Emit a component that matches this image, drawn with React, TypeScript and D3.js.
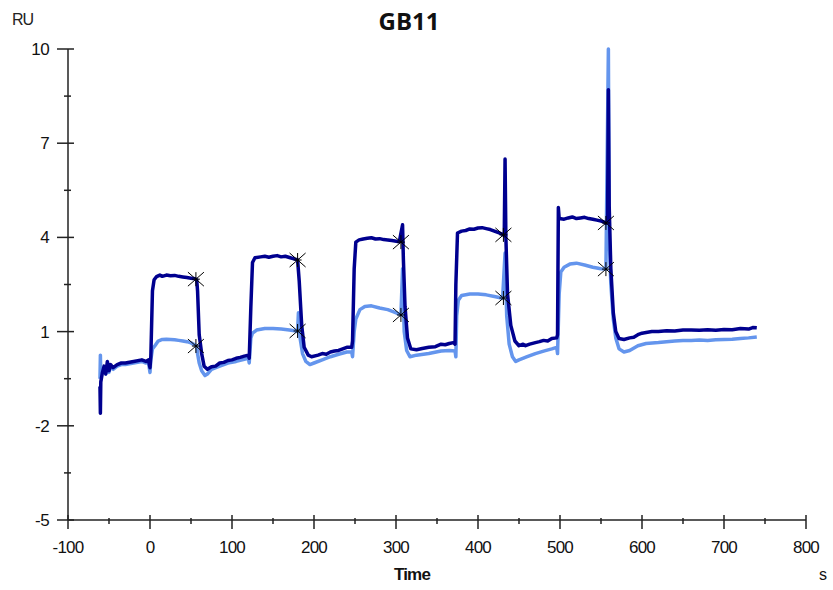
import React from "react";
import * as d3 from "d3";

const title = "GB11";
const xTicks = [-100, 0, 100, 200, 300, 400, 500, 600, 700, 800];
const xMinor = [-50, 50, 150, 250, 350, 450, 550, 650, 750];
const yTicks = [-5, -2, 1, 4, 7, 10];
const yMinor = [-3.5, -0.5, 2.5, 5.5, 8.5];

const darkT = [-61, -60.5, -60, -58, -56, -54, -52, -50, -48, -45, -40, -35, -30, -20, -10, -5, -2, 0, 1, 3, 5, 8, 12, 15, 20, 25, 30, 35, 40, 45, 50, 55, 57, 58, 60, 63, 66, 70, 75, 80, 85, 90, 95, 100, 105, 110, 115, 120, 121, 123, 125, 128, 135, 140, 145, 150, 155, 160, 165, 170, 178, 180, 182, 185, 188, 193, 197, 205, 210, 215, 220, 225, 230, 235, 240, 246, 247, 249, 251, 255, 260, 265, 270, 275, 280, 285, 290, 295, 304, 308, 309, 311, 314, 318, 325, 332, 340, 348, 355, 360, 365, 370, 372, 373, 375, 380, 385, 390, 395, 400, 405, 410, 415, 420, 425, 430, 432, 433, 434, 436, 440, 445, 450, 455, 458, 463, 470, 475, 480, 485, 490, 496, 497, 498, 499, 505, 510, 515, 520, 525, 530, 535, 540, 545, 550, 553, 556, 558, 559, 560, 562, 565, 568, 572, 578, 585, 590, 595, 600, 605, 612, 620, 630, 640, 650, 660, 670, 680, 690, 700, 710, 720, 730, 735, 740];
const darkV = [-0.75, -1.6, -0.6, -0.3, -0.1, -0.35, 0.05, -0.25, -0.05, -0.15, -0.05, 0.0, 0.0, 0.05, 0.1, 0.05, 0.1, -0.15, 0.2, 2.3, 2.65, 2.75, 2.8, 2.76, 2.8, 2.78, 2.79, 2.76, 2.74, 2.72, 2.7, 2.68, 2.65, 2.3, 0.9, 0.3, -0.1, -0.2, -0.12, -0.1, 0.0, 0.02, 0.08, 0.1, 0.15, 0.18, 0.22, 0.25, 0.15, 1.8, 3.2, 3.35, 3.38, 3.4, 3.37, 3.4, 3.42, 3.38, 3.4, 3.36, 3.3, 3.28, 2.6, 1.2, 0.5, 0.25, 0.2, 0.25, 0.3, 0.28, 0.35, 0.38, 0.4, 0.45, 0.5, 0.5, 0.7, 3.0, 3.85, 3.92, 3.95, 3.97, 3.99, 3.95, 3.96, 3.93, 3.92, 3.9, 3.86, 4.4, 3.3, 1.8, 0.8, 0.45, 0.42, 0.46, 0.5, 0.52, 0.6, 0.58, 0.62, 0.65, 0.6, 2.5, 4.14, 4.2, 4.22, 4.27, 4.26, 4.3, 4.31, 4.28, 4.25, 4.2, 4.15, 4.1, 4.05, 6.5, 4.0, 2.2, 1.2, 0.7, 0.55, 0.6, 0.55, 0.6, 0.65, 0.68, 0.72, 0.7, 0.78, 0.8, 0.9, 4.95, 4.6, 4.58, 4.62, 4.65, 4.6, 4.62, 4.64, 4.6, 4.58, 4.55, 4.52, 4.5, 4.45, 4.5, 8.7, 5.0, 3.0, 1.6, 1.0, 0.78, 0.75, 0.8, 0.82, 0.9, 0.95, 0.97, 1.0, 1.0, 1.03, 1.02, 1.05, 1.05, 1.04, 1.06, 1.04, 1.07, 1.06, 1.1, 1.08, 1.13, 1.12, 1.2];

const lightT = [-61, -60.5, -60, -58, -56, -54, -52, -50, -48, -45, -40, -35, -30, -20, -10, -5, -2, 0, 1, 3, 6, 10, 15, 20, 25, 30, 35, 40, 45, 50, 55, 57, 58, 60, 63, 67, 70, 75, 85, 95, 105, 115, 120, 121, 123, 125, 130, 140, 150, 160, 170, 178, 180, 181, 183, 186, 190, 195, 200, 210, 220, 230, 240, 246, 247, 249, 251, 256, 262, 270, 280, 290, 298, 306, 308, 310, 313, 317, 325, 340, 355, 365, 372, 373, 374, 376, 380, 390, 400, 410, 420, 430, 433, 435, 438, 442, 446, 450, 460, 470, 480, 490, 496, 497, 499, 501, 505, 512, 520, 530, 540, 550, 556, 559, 560, 562, 565, 568, 572, 578, 585, 595, 605, 620, 630, 640, 650, 660, 670, 680, 690, 700, 710, 720, 730, 740];
const lightV = [-0.5, 0.25, -0.4, -0.2, -0.15, -0.35, -0.1, -0.3, -0.1, -0.2, -0.1, -0.05, -0.05, 0.0, 0.05, 0.0, 0.05, -0.3, 0.1, 0.45, 0.55, 0.7, 0.75, 0.76, 0.75, 0.74, 0.72, 0.7, 0.68, 0.64, 0.57, 0.55, 0.3, 0.0, -0.25, -0.4, -0.35, -0.2, -0.1, 0.0, 0.05, 0.12, 0.15, 0.0, 0.8, 0.95, 1.05, 1.1, 1.1, 1.08, 1.05, 1.02, 1.0, 1.6, 0.8, 0.3, 0.05, -0.05, 0.0, 0.1, 0.2, 0.28, 0.35, 0.35, 0.2, 1.0, 1.4, 1.7, 1.8, 1.82, 1.75, 1.7, 1.62, 1.53, 3.0, 1.0, 0.4, 0.2, 0.25, 0.3, 0.38, 0.4, 0.38, 0.2, 1.5, 2.0, 2.15, 2.2, 2.2, 2.17, 2.12, 2.06, 3.5, 1.5, 0.6, 0.2, 0.05, 0.1, 0.2, 0.3, 0.38, 0.45, 0.5, 0.3, 2.2, 2.9, 3.05, 3.15, 3.18, 3.12, 3.05, 3.0, 2.99, 10.0, 4.0, 2.5, 1.4, 0.8, 0.45, 0.35, 0.4, 0.55, 0.62, 0.65, 0.68, 0.7, 0.72, 0.72, 0.73, 0.72, 0.74, 0.75, 0.76, 0.78, 0.8, 0.83];

const starT = [56, 180, 306, 431, 556];
const darkStarV = [2.67, 3.28, 3.85, 4.08, 4.46];
const lightStarV = [0.54, 1.02, 1.53, 2.07, 2.99];

const DARK = "#00008f";
const LIGHT = "#6495ed";

export default function App() {
  const x = d3.scaleLinear().domain([-100, 800]).range([68, 806]);
  const y = d3.scaleLinear().domain([-5, 10]).range([520, 49]);
  const line = d3
    .line<[number, number]>()
    .x((d) => x(d[0]))
    .y((d) => y(d[1]));
  const dark = darkT.map((t, i) => [t, darkV[i]] as [number, number]);
  const light = lightT.map((t, i) => [t, lightV[i]] as [number, number]);
  const stars = [
    ...starT.map((t, i) => [t, darkStarV[i]]),
    ...starT.map((t, i) => [t, lightStarV[i]]),
  ];
  const font = "'Liberation Sans', Arial, sans-serif";
  return (
    <svg
      width={833}
      height={590}
      style={{ position: "absolute", left: 0, top: 0, background: "#fff" }}
    >
      <text x={409} y={30} textAnchor="middle" fontFamily="'Open Sans', sans-serif" fontWeight="bold" fontSize={24} fill="#111">
        {title}
      </text>
      <text x={12} y={25} fontFamily={font} fontSize={16} letterSpacing={-1} fill="#222">RU</text>
      {/* axes */}
      <line x1={68} x2={68} y1={y(10)} y2={y(-5)} stroke="#222" strokeWidth={1.5} />
      <line x1={x(-100)} x2={x(800)} y1={520} y2={520} stroke="#222" strokeWidth={1.5} />
      {yTicks.map((v) => (
        <g key={"yt" + v}>
          <line x1={57} x2={74} y1={y(v)} y2={y(v)} stroke="#222" strokeWidth={1.5} />
          <text x={49} y={y(v) + 6} textAnchor="end" fontFamily={font} fontSize={17} letterSpacing={-0.6} fill="#111">
            {v}
          </text>
        </g>
      ))}
      {yMinor.map((v) => (
        <line key={"ym" + v} x1={64} x2={71} y1={y(v)} y2={y(v)} stroke="#222" strokeWidth={1.5} />
      ))}
      {xTicks.map((v) => (
        <g key={"xt" + v}>
          <line x1={x(v)} x2={x(v)} y1={515} y2={529} stroke="#222" strokeWidth={1.5} />
          <text x={x(v)} y={553} textAnchor="middle" fontFamily={font} fontSize={17} letterSpacing={-0.8} fill="#111">
            {v}
          </text>
        </g>
      ))}
      {xMinor.map((v) => (
        <line key={"xm" + v} x1={x(v)} x2={x(v)} y1={518} y2={524} stroke="#222" strokeWidth={1.5} />
      ))}
      <text x={412} y={580} textAnchor="middle" fontFamily={font} fontWeight="bold" fontSize={17} letterSpacing={-0.8} fill="#111">Time</text>
      <text x={819} y={580} fontFamily={font} fontSize={16} fill="#111">s</text>
      {/* series */}
      <path d={line(light) || ""} fill="none" stroke={LIGHT} strokeWidth={3.5} strokeLinejoin="round" />
      <path d={line(dark) || ""} fill="none" stroke={DARK} strokeWidth={3.5} strokeLinejoin="round" />
      {stars.map((s, i) => {
        const cx = x(s[0]);
        const cy = y(s[1]);
        return (
          <g key={"s" + i} stroke="#000" strokeWidth={1}>
            <line x1={cx - 8} x2={cx + 8} y1={cy - 7} y2={cy + 7} />
            <line x1={cx - 8} x2={cx + 8} y1={cy + 7} y2={cy - 7} />
            <line x1={cx} x2={cx} y1={cy - 7} y2={cy + 7} />
            <line x1={cx - 4} x2={cx + 4} y1={cy} y2={cy} />
          </g>
        );
      })}
    </svg>
  );
}
